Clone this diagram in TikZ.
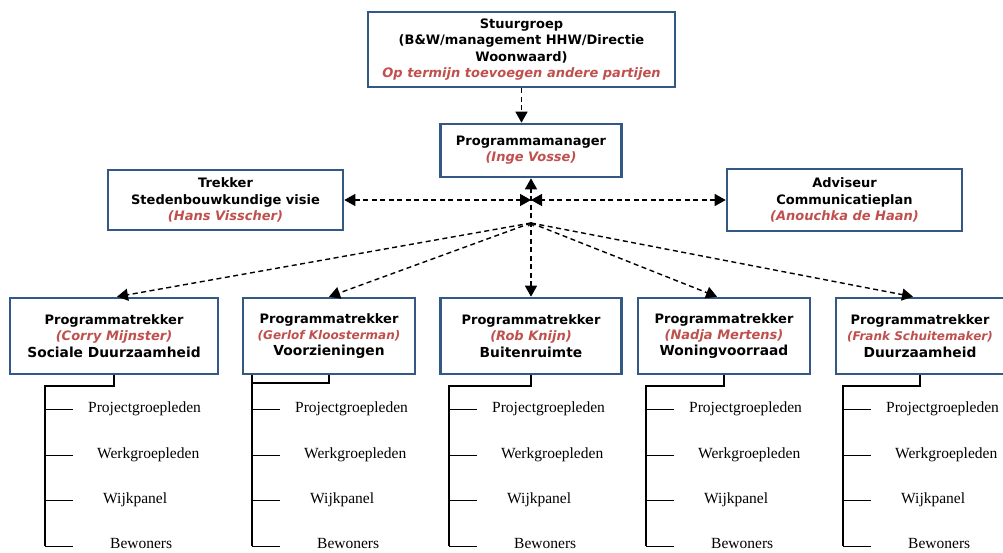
\documentclass[tikz,border=0pt]{standalone}
\usepackage{fontspec}
\usetikzlibrary{arrows.meta,calc}
\newfontfamily\boxfont{DejaVu Sans}
\newfontfamily\treefont{Liberation Serif}
\definecolor{boxblue}{RGB}{52,88,133}
\definecolor{namered}{RGB}{192,80,77}
\newcommand{\nm}[1]{{\color{namered}\itshape #1}}
\begin{document}
\begin{tikzpicture}[x=1pt,y=-1pt,
  orgbox/.style={draw=boxblue,line width=2.6pt,fill=white,align=center,inner sep=2pt,
    font=\boxfont\bfseries\fontsize{13}{16.3}\selectfont},
  darr/.style={line width=1.4pt,dash pattern=on 5pt off 3.5pt},
  tipA/.style={-{Triangle[length=11pt,width=12pt]}},
  tipB/.style={{Triangle[length=11pt,width=12pt]}-{Triangle[length=11pt,width=12pt]}},
  trunkline/.style={line width=1.5pt},
  branchline/.style={line width=0.9pt},
  leaf/.style={font=\treefont\fontsize{15.5}{18}\selectfont,inner sep=0pt,anchor=west}
]
\useasboundingbox[fill=white] (0,0) rectangle (1003,552);

% boxes
\node[orgbox,minimum width=307pt,minimum height=75pt] (stuur) at (521.5,49.5)
  {Stuurgroep\\(B\&W/management HHW/Directie\\Woonwaard)\\\nm{Op termijn toevoegen andere partijen}};
\node[orgbox,minimum width=181pt,minimum height=53pt] (pm) at (531,150.5)
  {Programmamanager\\\nm{(Inge Vosse)}};
\node[orgbox,minimum width=235pt,minimum height=60pt] (trek) at (225.5,200)
  {Trekker\\Stedenbouwkundige visie\\\nm{(Hans Visscher)}};
\node[orgbox,minimum width=235pt,minimum height=62pt] (adv) at (844.5,200)
  {Adviseur\\Communicatieplan\\\nm{(Anouchka de Haan)}};

\node[orgbox,minimum width=208pt,minimum height=76pt] (b1) at (114,336)
  {Programmatrekker\\\nm{(Corry Mijnster)}\\{\fontsize{13.8}{16.3}\selectfont Sociale Duurzaamheid}};
\node[orgbox,minimum width=172pt,minimum height=76pt] (b2) at (329,336)
  {Programmatrekker\\{\fontsize{12}{16.3}\selectfont\nm{(Gerlof Kloosterman)}}\\{\fontsize{13.8}{16.3}\selectfont Voorzieningen}};
\node[orgbox,minimum width=181pt,minimum height=76pt] (b3) at (531,336)
  {Programmatrekker\\\nm{(Rob Knijn)}\\{\fontsize{13.8}{16.3}\selectfont Buitenruimte}};
\node[orgbox,minimum width=172pt,minimum height=76pt] (b4) at (724,336)
  {Programmatrekker\\\nm{(Nadja Mertens)}\\{\fontsize{13.8}{16.3}\selectfont Woningvoorraad}};
\node[orgbox,minimum width=168pt,minimum height=76pt] (b5) at (920,336)
  {Programmatrekker\\{\fontsize{12}{16.3}\selectfont\nm{(Frank Schuitemaker)}}\\{\fontsize{13.8}{16.3}\selectfont Duurzaamheid}};

% hub coordinates
\coordinate (hub) at (531,200);
\coordinate (fan) at (531,223);

% dashed connectors
\draw[darr,tipA] (stuur.south) -- (stuur.south |- pm.north);
\draw[darr,tipB] (b3.north) -- (pm.south);
\draw[darr,tipB] (trek.east) -- (hub);
\draw[darr,tipB] (adv.west) -- (hub);
\draw[darr,tipA] (fan) -- ([xshift=3pt]b1.north);
\draw[darr,tipA] (fan) -- (b2.north);
\draw[darr,tipA] (fan) -- ([xshift=-7pt]b4.north);
\draw[darr,tipA] (fan) -- ([xshift=-7pt]b5.north);
\draw[line width=1pt,-{Straight Barb[length=2.5pt,width=6pt]}] ([yshift=-4pt]fan) -- (fan);

% trees
\foreach \b/\t in {b1/45,b2/252,b3/449,b4/646,b5/843}{
  \coordinate (\b t0) at (\t,386);
  \coordinate (\b t1) at (\t,409);
  \coordinate (\b t2) at (\t,455);
  \coordinate (\b t3) at (\t,500);
  \coordinate (\b t4) at (\t,546);
  \node[leaf] (\b p) at (\t+43,409) {Projectgroepleden};
  \node[leaf] (\b w) at (\t+52,455) {Werkgroepleden};
  \node[leaf] (\b k) at (\t+58,500) {Wijkpanel};
  \node[leaf] (\b o) at (\t+65,543) {Bewoners};
  \draw[branchline] (\b t1) -- ([xshift=-15pt]\b p.west);
  \draw[branchline] (\b t2) -- ([xshift=-24pt]\b w.west);
  \draw[branchline] (\b t3) -- ([xshift=-30pt]\b k.west);
  \draw[branchline] (\b t4) -- ([xshift=-37pt]\b o.west |- \b t4);
}
\draw[trunkline] (b1.south) |- (b1t0) -- (b1t4);
\draw[trunkline] (b2.south) |- (252,383) -- (b2t4);
\draw[trunkline] (b2.south -| b2t0) -- (252,383);
\draw[trunkline] (b3.south) |- (b3t0) -- (b3t4);
\draw[trunkline] (b4.south) |- (b4t0) -- (b4t4);
\draw[trunkline] (b5.south) |- (b5t0) -- (b5t4);
\end{tikzpicture}
\end{document}
